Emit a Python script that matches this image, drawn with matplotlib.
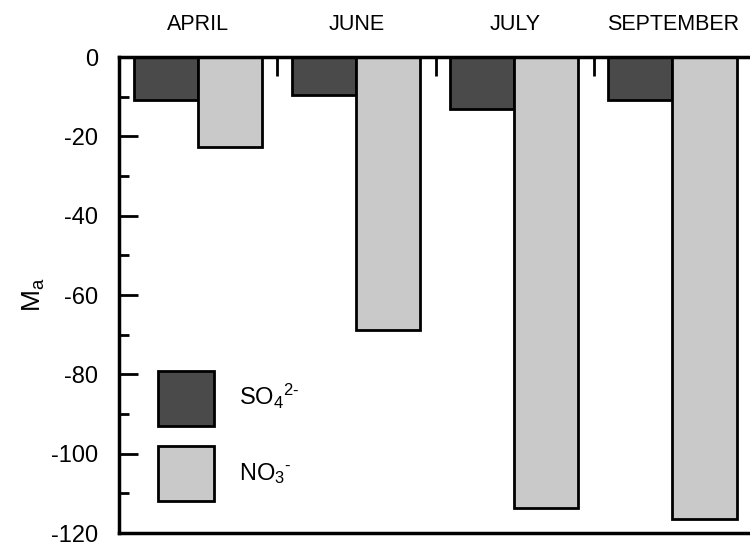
import matplotlib
matplotlib.use("Agg")
import matplotlib.pyplot as plt
import numpy as np

plt.rcParams['font.family'] = ['Liberation Sans', 'DejaVu Sans']
plt.rcParams['mathtext.fontset'] = 'custom'
plt.rcParams['mathtext.rm'] = 'Liberation Sans'
plt.rcParams['mathtext.it'] = 'Liberation Sans:italic'
plt.rcParams['mathtext.default'] = 'regular'
plt.rcParams['axes.unicode_minus'] = False

# data
months = ["APRIL", "JUNE", "JULY", "SEPTEMBER"]
so4 = [-10.9, -9.6, -13.2, -10.9]
no3 = [-22.6, -68.7, -113.8, -116.4]

x = np.arange(len(months))
w = 0.405

fig = plt.figure(figsize=(7.5, 5.46), dpi=100)
ax = fig.add_axes([119 / 750, 1 - 533 / 546, 633 / 750, 476 / 546])

ax.bar(x - 0.205, so4, width=w, color="#4a4a4a", edgecolor="black", linewidth=2,
       label=r"SO$_4$$^{2\text{-}}$")
ax.bar(x + 0.2, no3, width=w, color="#c9c9c9", edgecolor="black", linewidth=2,
       label=r"NO$_3$$^{\text{-}}$")

ax.set_xlim(-0.5, 3.5)
ax.set_ylim(-120, 0)

# top axis with month names, tick marks between groups
ax.xaxis.tick_top()
ax.set_xticks(x)
ax.set_xticklabels(months)
ax.set_xticks(x[:-1] + 0.5, minor=True)
ax.tick_params(axis="x", which="major", length=0, pad=16, labelsize=15.5)
ax.tick_params(axis="x", which="minor", length=14, width=2, direction="in")

ax.set_yticks(np.arange(-120, 1, 20))
ax.set_yticks(np.arange(-110, 0, 20), minor=True)
ax.tick_params(axis="y", which="major", length=14, width=2, direction="in",
               labelsize=17, pad=15)
ax.tick_params(axis="y", which="minor", length=7, width=2, direction="in")
ax.set_ylabel(r"M$_a$", fontsize=19, labelpad=3)

for s in ax.spines.values():
    s.set_linewidth(2.5)

ax.legend(loc="lower left", bbox_to_anchor=(0.0616, 0.067), frameon=False,
          fontsize=17, handlelength=2.37, handleheight=3.2, labelspacing=0.85,
          handletextpad=1.05, borderpad=0, borderaxespad=0)

fig.savefig("out.png", dpi=100)
